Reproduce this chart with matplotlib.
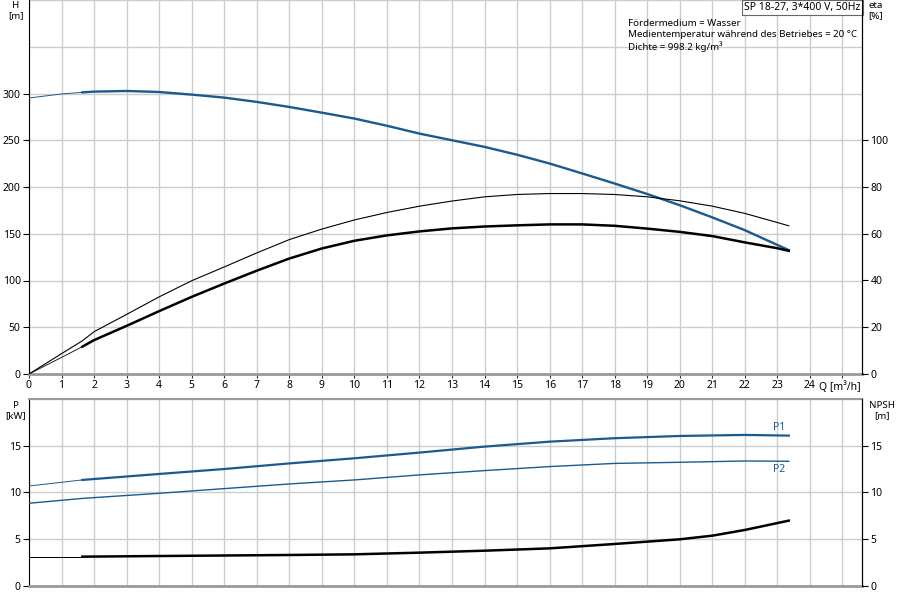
import numpy as np
import matplotlib
matplotlib.use("Agg")
import matplotlib.pyplot as plt

plt.rcParams['font.family'] = ['Noto Sans', 'DejaVu Sans']
plt.rcParams['font.size'] = 7
plt.rcParams['xtick.labelsize'] = 7.5
plt.rcParams['ytick.labelsize'] = 7.5

# flow points (m³/h), index 0..2 is the thin start section up to 1.64
q_top = [0, 1, 1.64, 2, 3, 4, 5, 6, 7, 8, 9, 10, 11, 12, 13, 14, 15, 16, 17, 18, 19, 20, 21, 22, 23, 23.35]
head = [295.2, 299.5, 301.2, 302.0, 302.7, 301.6, 298.8, 295.6, 291.0, 285.6, 279.5, 273.2, 265.5, 257.1,
        250.0, 242.9, 234.5, 225.1, 214.5, 203.7, 192.5, 180.5, 167.5, 153.8, 138.0, 132.5]
eta_pump = [0, 8.7, 14.2, 18.1, 25.5, 33.0, 39.9, 45.8, 51.8, 57.5, 62.0, 65.9, 69.1, 71.8, 74.0, 75.8,
            76.8, 77.2, 77.2, 76.8, 75.8, 74.1, 71.8, 68.7, 64.8, 63.4]
eta_total = [0, 7.1, 11.7, 14.5, 20.6, 26.9, 33.0, 38.7, 44.2, 49.4, 53.7, 57.0, 59.3, 61.0, 62.3, 63.1,
             63.6, 64.0, 64.0, 63.4, 62.2, 60.8, 59.0, 56.3, 53.8, 52.7]

q_bot = [0, 1.64, 4, 6, 8, 10, 12, 14, 16, 18, 20, 22, 23.35]
p1 = [10.68, 11.33, 11.97, 12.5, 13.1, 13.65, 14.26, 14.9, 15.43, 15.8, 16.04, 16.15, 16.08]
p2 = [8.83, 9.35, 9.9, 10.4, 10.9, 11.33, 11.87, 12.33, 12.76, 13.1, 13.22, 13.36, 13.33]
q_npsh = [0, 1.64, 4, 8, 10, 12, 14, 16, 18, 19, 20, 21, 22, 23.35]
npsh = [3.11, 3.11, 3.18, 3.29, 3.36, 3.54, 3.75, 4.0, 4.47, 4.72, 4.97, 5.36, 5.97, 6.97]

info_lines = ["Fördermedium = Wasser",
              "Medientemperatur während des Betriebes = 20 °C",
              "Dichte = 998.2 kg/m³"]
pump_title = "SP 18-27, 3*400 V, 50Hz"

blue = '#1b5a8e'
grid_c = '#cccccc'
spine_gray = '#999999'

fig = plt.figure(figsize=(9, 6), dpi=100)
W, H = 900, 600
ax = fig.add_axes([29 / W, 226 / H, 833 / W, 374 / H])
ax2 = fig.add_axes([29 / W, 14.3 / H, 833 / W, 186.7 / H])


def style(a):
    a.set_xlim(0, 25.6)
    a.grid(True, which='both', color=grid_c, lw=1)
    a.set_axisbelow(True)
    a.spines['left'].set_color('black')
    a.spines['right'].set_color('black')
    a.spines['bottom'].set_color(spine_gray)
    a.spines['bottom'].set_linewidth(2)
    a.spines['top'].set_visible(False)


# --- top chart: head and efficiency ---
style(ax)
ax.set_ylim(0, 400)
ax.set_xticks(range(0, 26))
ax.set_xticklabels([str(i) for i in range(0, 25)] + [''])
ax.set_yticks(range(0, 301, 50))
ax.set_yticks([350, 400], minor=True)
ax.tick_params(which='minor', length=0)
ax.tick_params(axis='x', length=3, pad=1, color='#333333')
ax.tick_params(axis='y', length=4, pad=2)

ax.plot(q_top[:3], head[:3], color=blue, lw=0.7, zorder=3)
ax.plot(q_top[2:], head[2:], color=blue, lw=1.7, zorder=3)

axe = ax.twinx()
axe.set_ylim(0, 160)
axe.set_yticks(range(0, 101, 20))
axe.tick_params(axis='y', length=4, pad=2)
for s in ['top', 'bottom', 'left']:
    axe.spines[s].set_visible(False)
axe.plot(q_top, eta_pump, color='black', lw=0.8, zorder=3)
axe.plot(q_top[:3], eta_total[:3], color='black', lw=0.6, zorder=3)
axe.plot(q_top[2:], eta_total[2:], color='black', lw=1.8, zorder=3)

ax.text(-0.016, 0.997, "H\n[m]", transform=ax.transAxes, ha='center', va='top', linespacing=1.2)
ax.text(1.016, 0.997, "eta\n[%]", transform=ax.transAxes, ha='center', va='top', linespacing=1.2)
ax.text(0.9736, -0.018, "Q [m³/h]", transform=ax.transAxes, ha='center', va='top', fontsize=7.5)
ax.text(0.719, 0.948, "\n".join(info_lines), transform=ax.transAxes, ha='left', va='top', linespacing=1.25)
ax.text(0.9985, 0.995, pump_title, transform=ax.transAxes, ha='right', va='top', fontsize=7.5,
        bbox=dict(boxstyle='square,pad=0.2', fc='white', ec='#666666', lw=0.8))

# --- bottom chart: power and NPSH ---
style(ax2)
ax2.spines['top'].set_visible(True)
ax2.spines['top'].set_color(spine_gray)
ax2.spines['top'].set_linewidth(1.5)
ax2.set_ylim(0, 20)
ax2.set_xticks(range(0, 26))
ax2.set_xticklabels([])
ax2.tick_params(axis='x', length=0)
ax2.set_yticks(range(0, 16, 5))
ax2.set_yticks([20], minor=True)
ax2.tick_params(which='minor', length=0)
ax2.tick_params(axis='y', length=4, pad=2)

ax2.plot(q_bot[:2], p1[:2], color=blue, lw=0.7, zorder=3)
ax2.plot(q_bot[1:], p1[1:], color=blue, lw=1.6, zorder=3)
ax2.plot(q_bot, p2, color=blue, lw=1.0, zorder=3)
ax2.plot(q_npsh[:2], npsh[:2], color='black', lw=0.7, zorder=3)
ax2.plot(q_npsh[1:], npsh[1:], color='black', lw=1.8, zorder=3)
ax2.text(q_bot[-1] - 0.3, p1[-1] + 0.3, "P1", color=blue, ha='center', va='bottom', fontsize=7.5)
ax2.text(q_bot[-1] - 0.3, p2[-1] - 0.3, "P2", color=blue, ha='center', va='top', fontsize=7.5)

axn = ax2.twinx()
axn.set_ylim(0, 20)
axn.set_yticks(range(0, 16, 5))
axn.tick_params(axis='y', length=4, pad=2)
for s in ['top', 'bottom', 'left']:
    axn.spines[s].set_visible(False)

ax2.text(-0.016, 0.99, "P\n[kW]", transform=ax2.transAxes, ha='center', va='top', linespacing=1.2)
ax2.text(1.024, 0.99, "NPSH\n[m]", transform=ax2.transAxes, ha='center', va='top', linespacing=1.2)

fig.savefig("out.png", dpi=100)
